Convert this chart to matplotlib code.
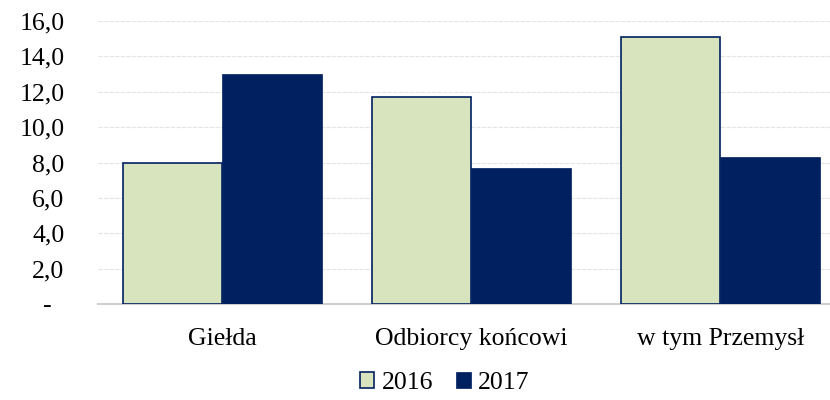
import numpy as np
import matplotlib.pyplot as plt

categories = ['Giełda', 'Odbiorcy końcowi', 'w tym Przemysł']
v2016 = [8.0, 11.7, 15.1]
v2017 = [13.0, 7.7, 8.3]
yticks = [0, 2, 4, 6, 8, 10, 12, 14, 16]

plt.rcParams['font.family'] = ['Liberation Serif', 'DejaVu Serif']
fs = 18.5

fig = plt.figure(figsize=(8.3, 4), dpi=100)
ax = fig.add_axes([0.118, 0.24, 0.9, 0.7075])

x = np.arange(len(categories))
w = 0.4
ax.bar(x - w / 2, v2016, w, color='#d7e4bd', edgecolor='#002060', linewidth=1.2, label='2016', zorder=3)
ax.bar(x + w / 2, v2017, w, color='#002060', edgecolor='#002060', linewidth=0.5, label='2017', zorder=3)

ax.set_xlim(-0.5, 2.5)
ax.set_ylim(0, 16)
ax.set_yticks(yticks)
# excel-style: zero shown as a dash
ax.set_yticklabels(['-  ' if t == 0 else f'{t:.1f}'.replace('.', ',') for t in yticks], fontsize=fs)
ax.set_xticks(x)
ax.set_xticklabels(categories, fontsize=fs)
ax.tick_params(length=0)
ax.tick_params(axis='y', pad=24)
ax.tick_params(axis='x', pad=17)
ax.grid(axis='y', color='#e4e4e4', linestyle=(0, (4, 1)), linewidth=0.8, zorder=0)
for s in ['top', 'right', 'left']:
    ax.spines[s].set_visible(False)
ax.spines['bottom'].set_color('#d0d0d0')
ax.spines['bottom'].set_linewidth(1.5)

fig.legend(loc='center', bbox_to_anchor=(0.536, 0.042), ncol=2, frameon=False, fontsize=fs,
           handlelength=0.55, handleheight=0.55, handletextpad=0.3, columnspacing=0.9)

fig.savefig('out.png', dpi=100)
